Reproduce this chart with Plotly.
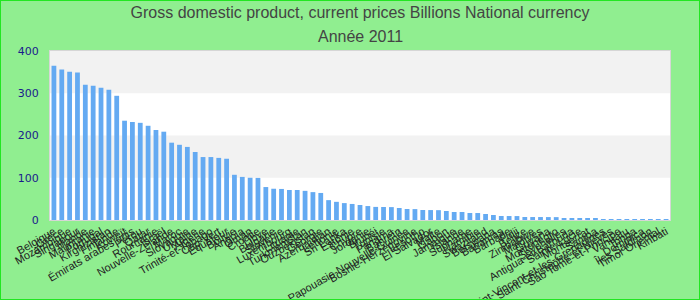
import plotly.graph_objects as go

countries = [
    "Belgique", "Grèce", "Mozambique", "Singapour", "Irlande", "Mauritanie", "Portugal",
    "Kirghizistan", "Finlande", "Koweït", "Émirats arabes unis", "Pérou", "Qatar", "Roumanie",
    "Israël", "Nouvelle-Zélande", "Maroc", "Slovaquie", "Ukraine", "Algérie",
    "Trinité-et-Tobago", "Cap-Vert", "Équateur", "Bolivie", "Angola", "Oman", "Croatie",
    "Libye", "Bulgarie", "Slovénie", "Luxembourg", "Lituanie", "Turkménistan", "Ouzbékistan",
    "Géorgie", "Azerbaïdjan", "Lettonie", "Sri Lanka", "Estonie", "Chypre", "Jordanie",
    "Brunéi", "Tunisie", "Panama", "Bahreïn", "Papouasie-Nouvelle-Guinée",
    "Bosnie-Herzégovine", "Lesotho", "El Salvador", "Malte", "Gabon", "Jamaïque", "Islande",
    "Suriname", "Namibie", "Swaziland", "Botswana", "Bahamas", "Barbade", "Fidji", "Belize",
    "Zimbabwe", "Maldives", "Guyana", "Monténégro", "Seychelles", "Antigua-et-Barbuda",
    "Sainte-Lucie", "Montserrat", "Samoa", "Saint-Vincent-et-les-Grenadines",
    "Saint-Christophe-et-Niévès", "Sao Tomé-et-Principe", "Vanuatu", "Tonga", "Dominica",
    "Îles Salomon", "Timor Oriental", "Kiribati",
]

gdp_2011 = [
    365, 356, 351, 349, 320, 318, 313, 308, 294, 235, 232, 230, 223, 213, 209, 183, 178,
    173, 161, 149, 149, 147, 145, 107, 102, 100, 99.6, 78, 74, 73.5, 71, 71, 69, 66, 64,
    47, 43, 40, 38, 35.5, 33, 31, 30.8, 30.5, 28.4, 26, 25.8, 23.7, 23.5, 23.3, 21.3, 19,
    18.9, 16.6, 16.5, 14.2, 11.8, 9.5, 9.4, 9.3, 7.1, 7.0, 7.0, 6.9, 6.8, 4.7, 2.6, 2.5,
    2.4, 2.4, 2.3, 2.3, 2.2, 2.2, 0.1, 0.08, 0.06, 0.05, 0.03,
]

y_ticks = [0, 100, 200, 300, 400]

title_line1 = "Gross domestic product, current prices Billions National currency"
title_line2 = "Année 2011"

fig = go.Figure()
fig.add_trace(go.Bar(
    x=countries, y=gdp_2011,
    marker=dict(color="#64aaf2", line=dict(width=0)),
    hoverinfo="x+y",
))

W, H = 700, 300
ml, mr, mt, mb = 50, 30, 51, 80
pw, ph = W - ml - mr, H - mt - mb

shapes = []
for i, (a, b) in enumerate(zip(y_ticks[:-1], y_ticks[1:])):
    if i % 2 == 1:
        shapes.append(dict(type="rect", xref="paper", yref="y", x0=0, x1=1, y0=a, y1=b,
                           fillcolor="#f2f2f2", line=dict(width=0), layer="below"))
shapes.append(dict(type="rect", xref="paper", yref="paper",
                   x0=-ml / pw, x1=1 + mr / pw, y0=-mb / ph, y1=1 + mt / ph,
                   line=dict(color="#22e622", width=2), fillcolor="rgba(0,0,0,0)"))

title_font = dict(family="Liberation Sans, Arial, sans-serif", size=16, color="#444444")

fig.update_layout(
    width=W, height=H,
    margin=dict(l=ml, r=mr, t=mt, b=mb, pad=0),
    paper_bgcolor="#90ee90",
    plot_bgcolor="#ffffff",
    showlegend=False,
    bargap=0.39,
    shapes=shapes,
    title=dict(
        text=title_line1,
        x=0.5, xanchor="center", xref="paper",
        y=1 - 12 / H, yanchor="middle", yref="container",
        font=title_font,
    ),
    annotations=[dict(
        text=title_line2, xref="paper", yref="paper", x=0.5, xanchor="center",
        y=1 + (mt - 36) / ph, yanchor="middle", showarrow=False, font=title_font,
    )],
    xaxis=dict(
        tickmode="linear", dtick=1, tickangle=-30, automargin=False,
        tickfont=dict(family="Liberation Sans, Arial, sans-serif", size=11, color="#222222"),
        showline=True, linecolor="#d6d6d6", linewidth=1, mirror=True,
        showgrid=False, ticks="",
    ),
    yaxis=dict(
        range=[0, 400], tickvals=y_ticks, automargin=False,
        tickfont=dict(family="DejaVu Sans, sans-serif", size=11, color="#1a1a8c"),
        showline=True, linecolor="#d6d6d6", linewidth=1, mirror=True,
        showgrid=False, zeroline=False, ticks="outside", ticklen=8, tickcolor="rgba(0,0,0,0)",
    ),
)

fig.write_html("out.html")
